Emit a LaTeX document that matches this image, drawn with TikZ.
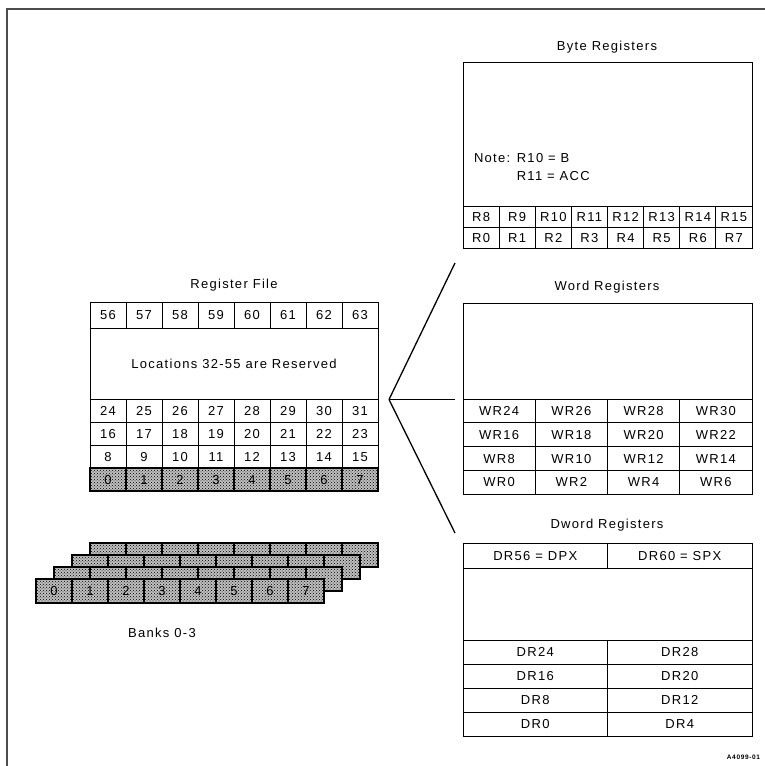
\documentclass[tikz,border=0pt]{standalone}
\usepackage{fontspec}
\setmainfont{Liberation Sans}[LetterSpace=10]
\usetikzlibrary{patterns,positioning}

\begin{document}
\begin{tikzpicture}[
    x=1pt, y=-1pt,
    every node/.style={font=\fontsize{13}{15}\selectfont, inner sep=0pt, outer sep=0pt},
    regcell/.style={draw, line width=0.8pt, minimum width=36pt, minimum height=23pt,
      text height=9.3pt, text depth=0pt},
    shaded/.style={regcell, line width=1.2pt, fill=gray!50,
      postaction={pattern=crosshatch dots, pattern color=black}},
    bigbox/.style={draw, line width=0.8pt, minimum width=289pt, anchor=north west},
    bytecell/.style={regcell, minimum width=36.125pt, minimum height=21pt},
    wordcell/.style={regcell, minimum width=72.25pt, minimum height=23.75pt},
    dwordcell/.style={regcell, minimum width=144.5pt, minimum height=24pt},
    fanline/.style={line width=1.3pt},
    frameline/.style={line width=2.5pt, black!70},
  ]
  \useasboundingbox (0,0) rectangle (765,766);

  % --- Frame ---
  \draw[frameline] (7,766) -- (7,9) -- (765,9);

  % --- Register file ---
  \node (rfTitle) at (234,285) {Register File};
  \foreach \i in {0,...,7} {
    \pgfmathtruncatemacro\n{56+\i}
    \node[regcell, minimum height=26pt] (rf-top-\i) at (108+36*\i,315) {\n};
  }
  \node[draw, line width=0.8pt, minimum width=288pt, minimum height=71pt]
    (reserved) at (234,363.5) {Locations 32-55 are Reserved};
  \foreach \r/\base in {0/24, 1/16, 2/8} {
    \foreach \i in {0,...,7} {
      \pgfmathtruncatemacro\n{\base+\i}
      \node[regcell] (rf-\r-\i) at (108+36*\i,410.5+23*\r) {\n};
    }
  }
  \foreach \i in {0,...,7}
    \node[shaded] (rf-bank-\i) at (108+36*\i,479.5) {\i};

  % --- Banks 0-3 (back to front) ---
  \foreach \k in {3,2,1} {
    \foreach \i in {0,...,7}
      \node[shaded, minimum height=24pt] (bank-\k-\i) at (54+18*\k+36*\i,591-12*\k) {};
  }
  \foreach \i in {0,...,7}
    \node[shaded, minimum height=24pt] (bank-0-\i) at (54+36*\i,591) {\i};
  \node (banksLabel) at (162,633) {Banks 0-3};

  % --- Byte registers ---
  \node (byteTitle) at (607,47) {Byte Registers};
  \node[bigbox, minimum height=144pt] (byteBox) at (463,62) {};
  \node[anchor=west, align=left, font=\fontsize{13}{18}\selectfont] (byteNote) at (474,167)
    {Note: R10 = B\\\hphantom{Note: }R11 = ACC};
  \foreach \i in {0,...,7} {
    \pgfmathtruncatemacro\n{8+\i}
    \node[bytecell] (byte-hi-\i) at (481.0625+36.125*\i,216.5) {R\n};
    \node[bytecell] (byte-lo-\i) at (481.0625+36.125*\i,237.5) {R\i};
  }

  % --- Word registers ---
  \node (wordTitle) at (607,287) {Word Registers};
  \node[bigbox, minimum height=96pt] (wordBox) at (463,303) {};
  \foreach \r in {0,...,3} {
    \foreach \i in {0,...,3} {
      \pgfmathtruncatemacro\n{24-8*\r+2*\i}
      \node[wordcell] (word-\r-\i) at (499.125+72.25*\i,410.875+23.75*\r) {WR\n};
    }
  }

  % --- Dword registers ---
  \node (dwordTitle) at (607,525) {Dword Registers};
  \node[dwordcell, minimum height=25pt] (dpx) at (535.25,555.5) {DR56 = DPX};
  \node[dwordcell, minimum height=25pt] (spx) at (679.75,555.5) {DR60 = SPX};
  \node[bigbox, minimum height=72pt] (dwordBox) at (463,568) {};
  \foreach \r in {0,...,3} {
    \foreach \i in {0,1} {
      \pgfmathtruncatemacro\n{24-8*\r+4*\i}
      \node[dwordcell] (dword-\r-\i) at (535.25+144.5*\i,652+24*\r) {DR\n};
    }
  }

  % --- Fan from register file ---
  \coordinate (fan) at (389,399.5);
  \coordinate (toByte) at (455,263);
  \coordinate (toWord) at (455,399.5);
  \coordinate (toDword) at (455,533);
  \draw[fanline] (fan) -- (toByte);
  \draw[fanline] (fan) -- (toWord);
  \draw[fanline] (fan) -- (toDword);

  \node[anchor=east, font=\fontsize{6.5}{7}\selectfont\bfseries] (figId) at (760,757) {A4099-01};
\end{tikzpicture}
\end{document}
